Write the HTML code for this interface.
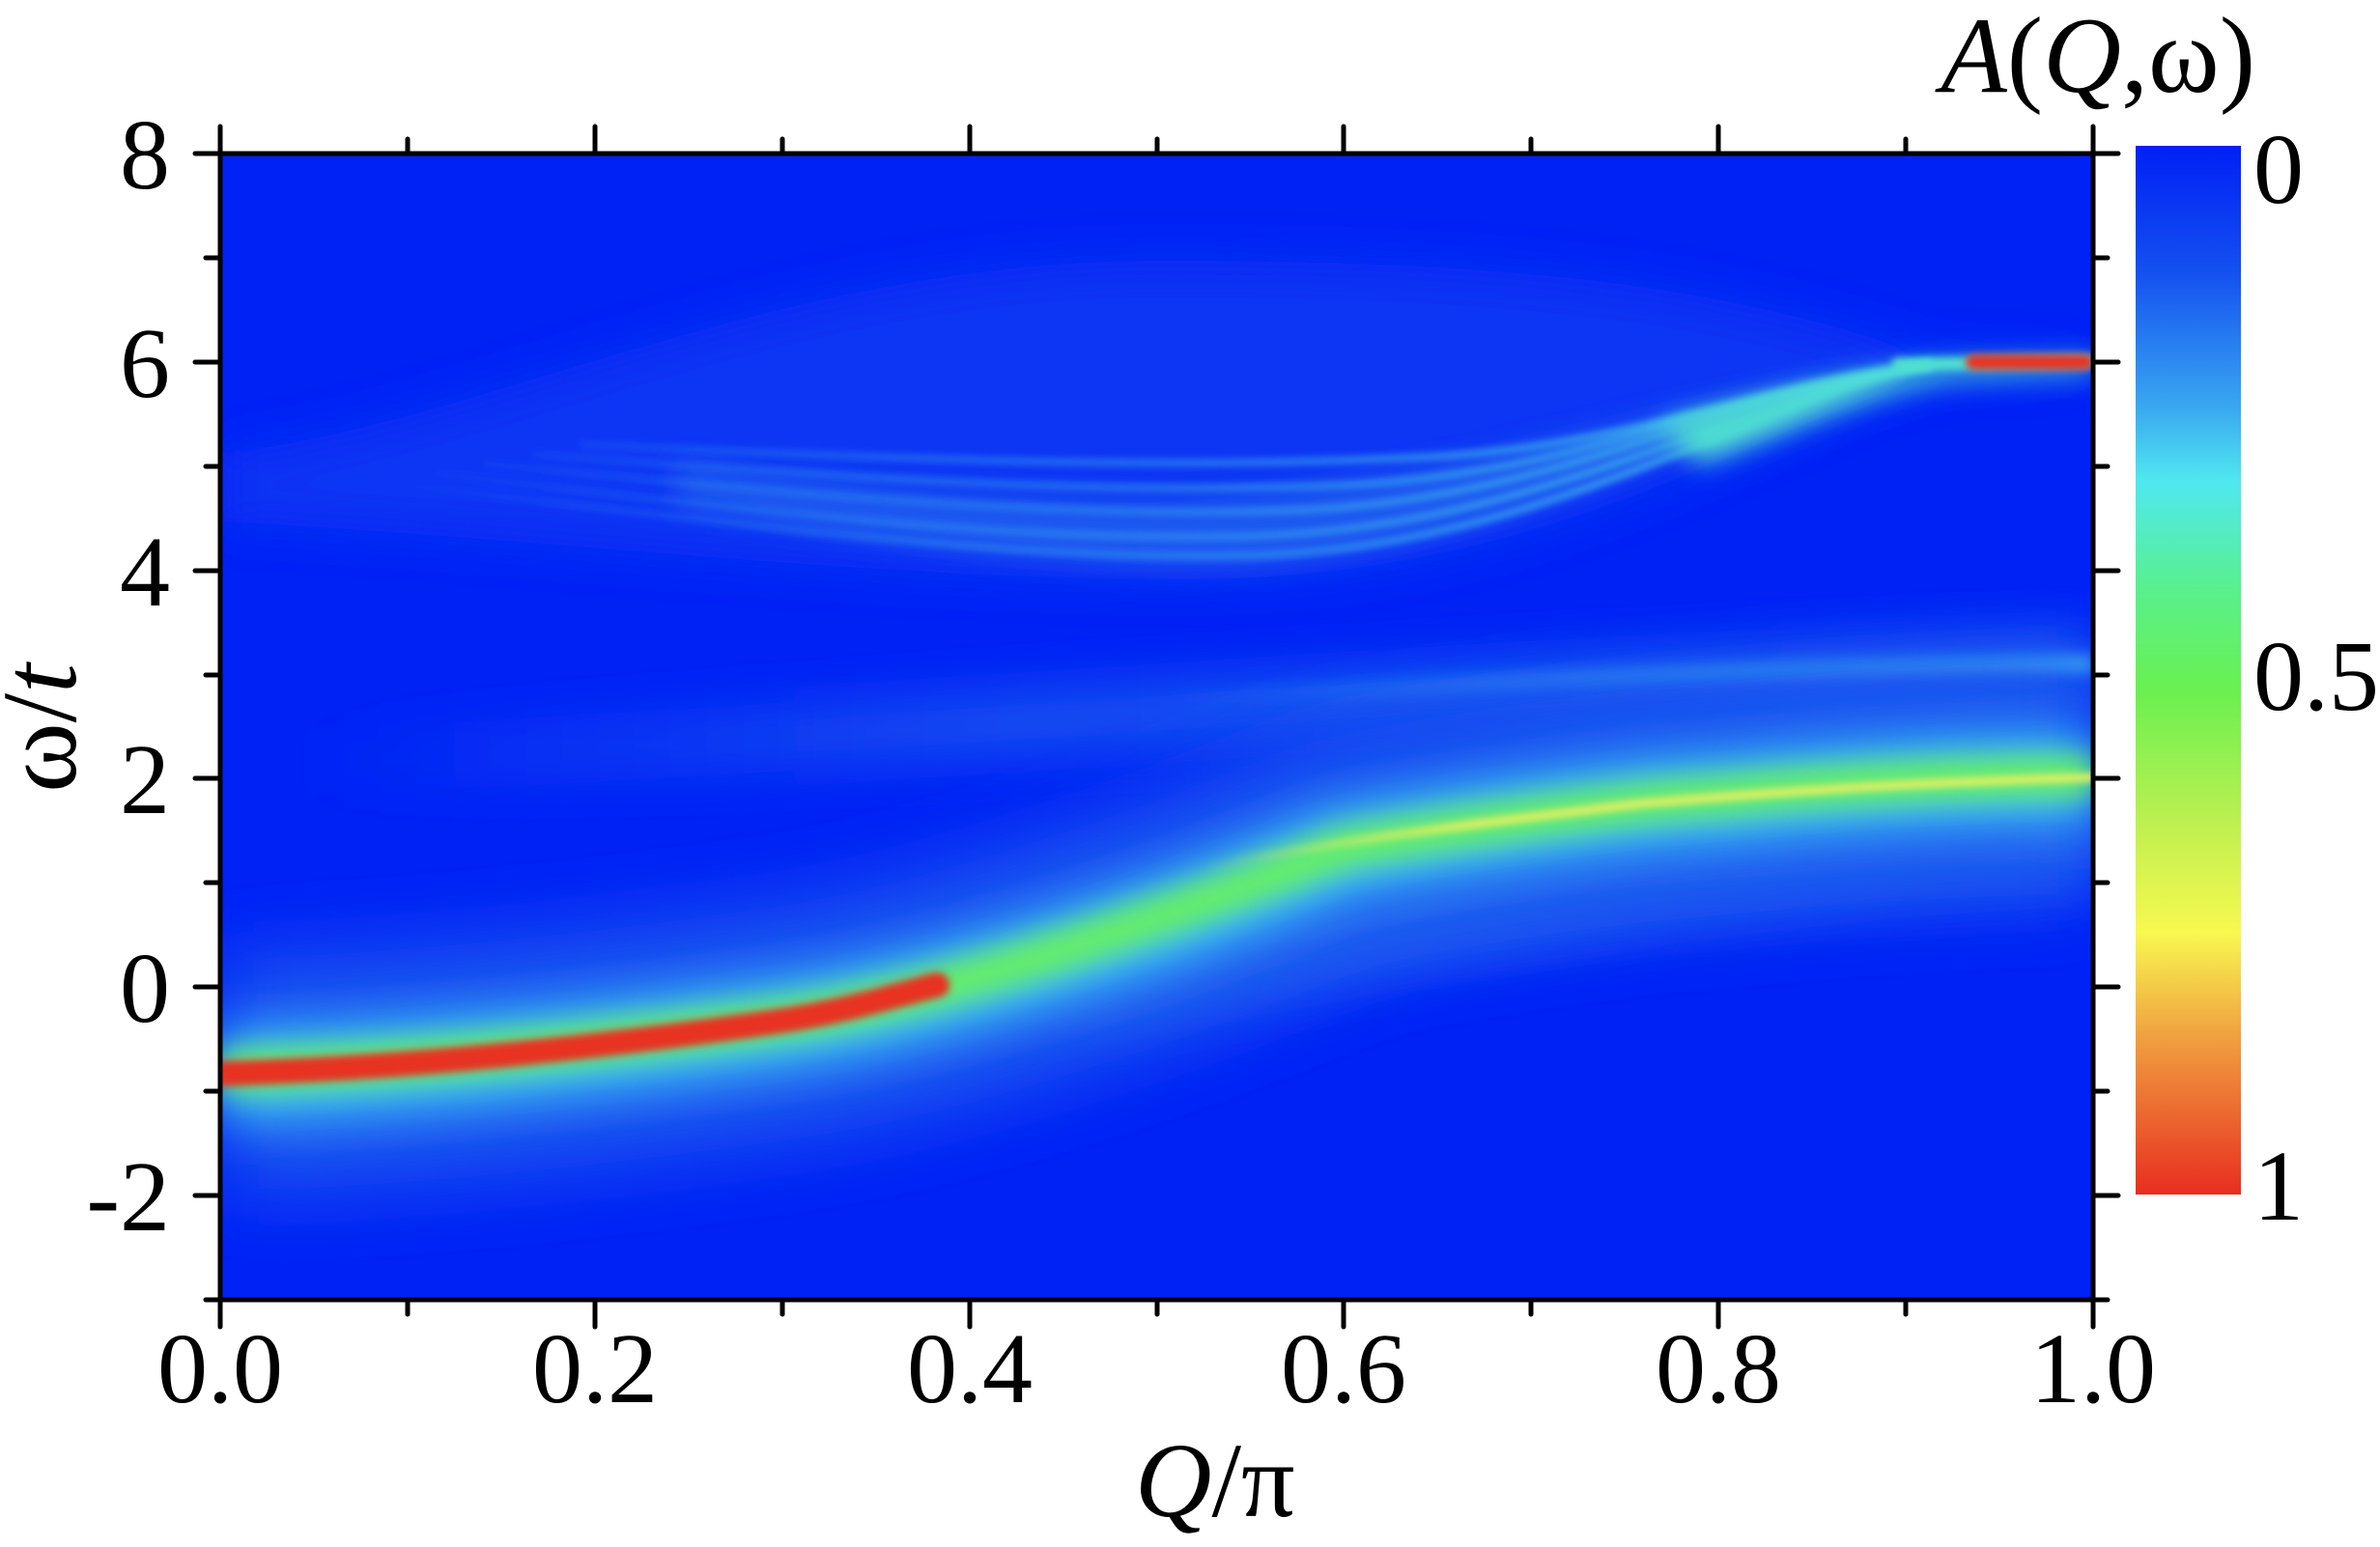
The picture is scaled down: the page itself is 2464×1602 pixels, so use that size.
<!DOCTYPE html>
<html><head><meta charset="utf-8"><style>
html,body{margin:0;padding:0;background:#fff;}
svg{display:block;}
text{font-family:"Liberation Serif","Times New Roman",serif;fill:#000;}
</style></head><body>
<svg width="2464" height="1602" viewBox="0 0 2464 1602" xmlns="http://www.w3.org/2000/svg">
<defs>
<clipPath id="cp"><rect x="228" y="159" width="1939" height="1187"/></clipPath>
<filter id="b40" filterUnits="userSpaceOnUse" x="0" y="0" width="2464" height="1602"><feGaussianBlur stdDeviation="40"/></filter>
<filter id="b25" filterUnits="userSpaceOnUse" x="0" y="0" width="2464" height="1602"><feGaussianBlur stdDeviation="25"/></filter>
<filter id="b14" filterUnits="userSpaceOnUse" x="0" y="0" width="2464" height="1602"><feGaussianBlur stdDeviation="14"/></filter>
<filter id="b8" filterUnits="userSpaceOnUse" x="0" y="0" width="2464" height="1602"><feGaussianBlur stdDeviation="8"/></filter>
<filter id="b4" filterUnits="userSpaceOnUse" x="0" y="0" width="2464" height="1602"><feGaussianBlur stdDeviation="4"/></filter>
<linearGradient id="cb" x1="0" y1="0" x2="0" y2="1">
<stop offset="0" stop-color="#0020f5"/>
<stop offset="0.12" stop-color="#1450f0"/>
<stop offset="0.25" stop-color="#3aa8f0"/>
<stop offset="0.32" stop-color="#50e8f0"/>
<stop offset="0.42" stop-color="#58f090"/>
<stop offset="0.52" stop-color="#6af050"/>
<stop offset="0.65" stop-color="#c0f050"/>
<stop offset="0.75" stop-color="#f8f850"/>
<stop offset="0.85" stop-color="#f0a040"/>
<stop offset="1" stop-color="#e82e20"/>
</linearGradient>
<linearGradient id="fanG" gradientUnits="userSpaceOnUse" x1="400" y1="0" x2="2000" y2="0">
<stop offset="0" stop-color="#2f90f0" stop-opacity="0"/>
<stop offset="0.3" stop-color="#2f90f0" stop-opacity="0.6"/>
<stop offset="0.75" stop-color="#3aa8f0" stop-opacity="1"/>
<stop offset="1" stop-color="#50e0e0" stop-opacity="1"/>
</linearGradient>
<linearGradient id="w3G" gradientUnits="userSpaceOnUse" x1="1200" y1="0" x2="2167" y2="0">
<stop offset="0" stop-color="#40b8f0" stop-opacity="0"/>
<stop offset="0.6" stop-color="#40b8f0" stop-opacity="0.8"/>
<stop offset="1" stop-color="#50d8f0" stop-opacity="1"/>
</linearGradient>
<linearGradient id="w3B" gradientUnits="userSpaceOnUse" x1="300" y1="0" x2="2167" y2="0">
<stop offset="0" stop-color="#1a58f0" stop-opacity="0"/>
<stop offset="0.4" stop-color="#1a58f0" stop-opacity="0.8"/>
<stop offset="1" stop-color="#1a58f0" stop-opacity="1"/>
</linearGradient>
<linearGradient id="yG" gradientUnits="userSpaceOnUse" x1="1250" y1="0" x2="2167" y2="0">
<stop offset="0" stop-color="#f0f060" stop-opacity="0"/>
<stop offset="0.3" stop-color="#f0f060" stop-opacity="1"/>
<stop offset="1" stop-color="#f0f060" stop-opacity="1"/>
</linearGradient>
<linearGradient id="lfG" gradientUnits="userSpaceOnUse" x1="1100" y1="0" x2="2100" y2="0">
<stop offset="0" stop-color="#2f90f0" stop-opacity="0"/>
<stop offset="0.3" stop-color="#2f90f0" stop-opacity="0.9"/>
<stop offset="1" stop-color="#2f90f0" stop-opacity="0"/>
</linearGradient>
</defs>
<g clip-path="url(#cp)">
<rect x="228" y="159" width="1939" height="1187" fill="#0022f5"/>
<path d="M228,470 C500,440 800,270 1200,270 C1600,270 1800,300 2000,370 L2167,372 L2167,380 L2000,390 C1800,450 1600,600 1230,600 C900,600 600,560 228,540 Z" fill="#0c34f4" filter="url(#b25)"/>
<path d="M700,520 C900,560 1100,590 1300,585 C1600,560 1800,420 2000,378 L2000,385 C1750,400 1550,500 1200,520 C1000,520 850,500 700,480 Z" fill="#1a58f0" filter="url(#b14)"/>
<g fill="none" stroke="url(#fanG)" stroke-width="6" filter="url(#b4)">
<path d="M400,500 C900,560 1100,580 1300,575 C1600,565 1800,420 2000,380"/>
<path d="M450,490 C900,545 1100,560 1300,555 C1600,545 1800,410 2000,380"/>
<path d="M500,480 C950,525 1150,535 1350,528 C1620,515 1810,400 2000,378"/>
<path d="M550,470 C1000,505 1200,510 1400,502 C1650,488 1820,395 2000,377"/>
<path d="M600,460 C1100,485 1300,482 1500,472 C1700,458 1850,390 2000,376"/>
</g>
<path d="M1720,440 C1850,405 1950,380 2030,376 L2167,372 L2167,386 L2030,392 C1950,398 1850,450 1760,480 Z" fill="#50e0d0" filter="url(#b14)"/>
<path d="M1960,378 L2167,374" stroke="#50e0d0" stroke-width="14" filter="url(#b4)"/>
<rect x="2035" y="367" width="132" height="16" rx="8" fill="#e83020" filter="url(#b4)"/>
<path d="M300,790 C1000,760 1400,715 2167,690" fill="none" stroke="url(#w3B)" stroke-width="70" filter="url(#b25)"/>
<path d="M1200,725 C1700,697 2000,688 2167,688" fill="none" stroke="url(#w3G)" stroke-width="14" filter="url(#b8)"/>
<path d="M1100,1010 C1400,960 1700,880 2167,860" fill="none" stroke="#1a58f0" stroke-width="110" filter="url(#b25)"/>
<g fill="none" stroke="url(#lfG)" stroke-width="6" filter="url(#b4)">
<path d="M1100,1020 C1400,970 1600,900 1950,880"/>
<path d="M1150,1000 C1450,950 1650,890 2000,870"/>
<path d="M1200,980 C1500,930 1700,880 2050,860"/>
</g>
<path d="M228,1114 C422,1108 616,1087 810,1060 C950,1040 1100,990 1198,957 C1300,920 1391,882 1391,882 C1500,860 1700,830 1779,828 C1900,815 2050,806 2167,806" fill="none" stroke="#1a58f0" stroke-width="240" filter="url(#b40)"/>
<path d="M228,1114 C422,1108 616,1087 810,1060 C950,1040 1100,990 1198,957 C1300,920 1391,882 1391,882 C1500,860 1700,830 1779,828 C1900,815 2050,806 2167,806" fill="none" stroke="#40c8f0" stroke-width="90" filter="url(#b25)"/>
<path d="M228,1110 C422,1104 616,1083 810,1056 C950,1036 1100,985 1198,950 C1300,915 1391,878 1391,878 C1500,858 1700,828 1779,825 C1900,812 2050,804 2167,804" fill="none" stroke="#68f060" stroke-width="40" filter="url(#b14)"/>
<path d="M1250,900 C1350,875 1500,856 1700,832 C1779,826 1900,813 2167,805 L2200,805" fill="none" stroke="url(#yG)" stroke-width="8" filter="url(#b4)"/>
<path d="M228,1112 C422,1106 616,1085 810,1057 C880,1046 930,1030 970,1020" fill="none" stroke="#e83020" stroke-width="26" stroke-linecap="round" filter="url(#b4)"/>
</g>
<rect x="228" y="159" width="1939" height="1187" fill="none" stroke="#000" stroke-width="5"/>
<g stroke="#000" stroke-width="5" stroke-linecap="round">
<path d="M228,1346v28M616,1346v28M1004,1346v28M1391,1346v28M1779,1346v28M2167,1346v28
M422,1346v15M810,1346v15M1198,1346v15M1585,1346v15M1973,1346v15
M228,159v-28M616,159v-28M1004,159v-28M1391,159v-28M1779,159v-28M2167,159v-28
M422,159v-15M810,159v-15M1198,159v-15M1585,159v-15M1973,159v-15"/>
<path d="M228,159h-26M228,375h-26M228,591h-26M228,806h-26M228,1022h-26M228,1238h-26
M228,267h-15M228,483h-15M228,699h-15M228,914h-15M228,1130h-15M228,1346h-15
M2167,159h26M2167,375h26M2167,591h26M2167,806h26M2167,1022h26M2167,1238h26
M2167,267h15M2167,483h15M2167,699h15M2167,914h15M2167,1130h15M2167,1346h15"/>
</g>
<g font-size="104" text-anchor="end">
<text x="176" y="195">8</text>
<text x="176" y="411">6</text>
<text x="176" y="627">4</text>
<text x="176" y="842">2</text>
<text x="176" y="1058">0</text>
<text x="176" y="1274">-2</text>
</g>
<g font-size="104" text-anchor="middle">
<text x="228" y="1452">0.0</text>
<text x="616" y="1452">0.2</text>
<text x="1004" y="1452">0.4</text>
<text x="1391" y="1452">0.6</text>
<text x="1779" y="1452">0.8</text>
<text x="2167" y="1452">1.0</text>
</g>
<text x="1175" y="1570" font-size="110"><tspan font-style="italic">Q</tspan>/π</text>
<text transform="translate(78,754) rotate(-90)" font-size="110" text-anchor="middle">ω/<tspan font-style="italic">t</tspan></text>
<text x="2335" y="95" font-size="112" text-anchor="end"><tspan font-style="italic">A</tspan>(<tspan font-style="italic">Q</tspan>,ω)</text>
<rect x="2211" y="151" width="109" height="1086" fill="url(#cb)"/>
<g font-size="104">
<text x="2333" y="210">0</text>
<text x="2333" y="735">0.5</text>
<text x="2333" y="1263">1</text>
</g>
</svg>
</body></html>
